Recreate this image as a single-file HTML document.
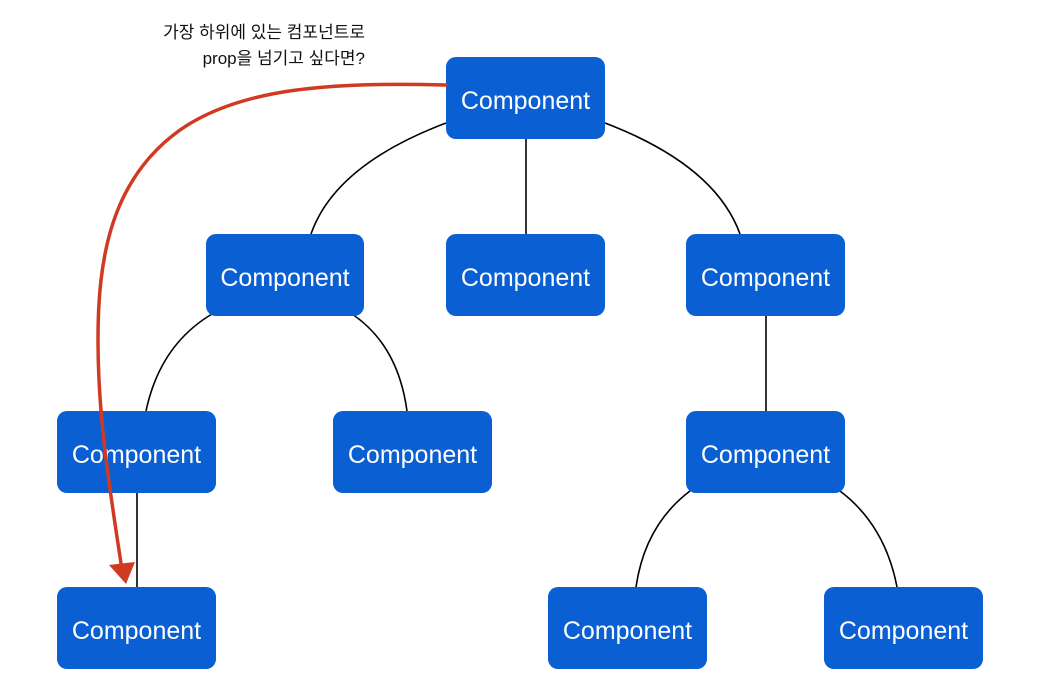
<!DOCTYPE html>
<html><head><meta charset="utf-8"><style>
body{margin:0;background:#fff;width:1047px;height:692px;overflow:hidden}
svg{display:block}
.b{fill:#0a5fd2}
.t{fill:#fff;font-family:"Liberation Sans","DejaVu Sans",sans-serif;font-size:25px;text-anchor:middle}
.l{fill:none;stroke:#000;stroke-width:1.6}
</style></head><body>
<svg width="1047" height="692" viewBox="0 0 1047 692">
<path class="l" d="M446 123 Q335 165 311 234"/>
<path class="l" d="M526 139 V234"/>
<path class="l" d="M605 123 Q715 165 740 234"/>
<path class="l" d="M212 314 Q160 345 146 411"/>
<path class="l" d="M352 314 Q398 345 407 411"/>
<path class="l" d="M766 316 V411"/>
<path class="l" d="M137 493 V587"/>
<path class="l" d="M690 491 Q645 525 636 587"/>
<path class="l" d="M840 491 Q885 525 897 587"/>
<g>
<rect class="b" x="446" y="57" width="159" height="82" rx="10"/><text class="t" x="525.5" y="109">Component</text>
<rect class="b" x="206" y="234" width="158" height="82" rx="10"/><text class="t" x="285" y="286">Component</text>
<rect class="b" x="446" y="234" width="159" height="82" rx="10"/><text class="t" x="525.5" y="286">Component</text>
<rect class="b" x="686" y="234" width="159" height="82" rx="10"/><text class="t" x="765.5" y="286">Component</text>
<rect class="b" x="57" y="411" width="159" height="82" rx="10"/><text class="t" x="136.5" y="463">Component</text>
<rect class="b" x="333" y="411" width="159" height="82" rx="10"/><text class="t" x="412.5" y="463">Component</text>
<rect class="b" x="686" y="411" width="159" height="82" rx="10"/><text class="t" x="765.5" y="463">Component</text>
<rect class="b" x="57" y="587" width="159" height="82" rx="10"/><text class="t" x="136.5" y="639">Component</text>
<rect class="b" x="548" y="587" width="159" height="82" rx="10"/><text class="t" x="627.5" y="639">Component</text>
<rect class="b" x="824" y="587" width="159" height="82" rx="10"/><text class="t" x="903.5" y="639">Component</text>
</g>
<path d="M446 85 C330 82 240 88 180 130 C110 180 98 260 98 340 C98 420 110 490 122 570" fill="none" stroke="#d13a22" stroke-width="3.5" stroke-linecap="round"/>
<path d="M109 565 L135 562 L126 584 Z" fill="#d13a22"/>
<text x="365" y="38" font-family="'Liberation Sans','Noto Sans CJK KR',sans-serif" font-size="17" text-anchor="end" fill="#111">가장 하위에 있는 컴포넌트로</text>
<text x="365" y="64" font-family="'Liberation Sans','Noto Sans CJK KR',sans-serif" font-size="17" text-anchor="end" fill="#111">prop을 넘기고 싶다면?</text>
</svg>
</body></html>
